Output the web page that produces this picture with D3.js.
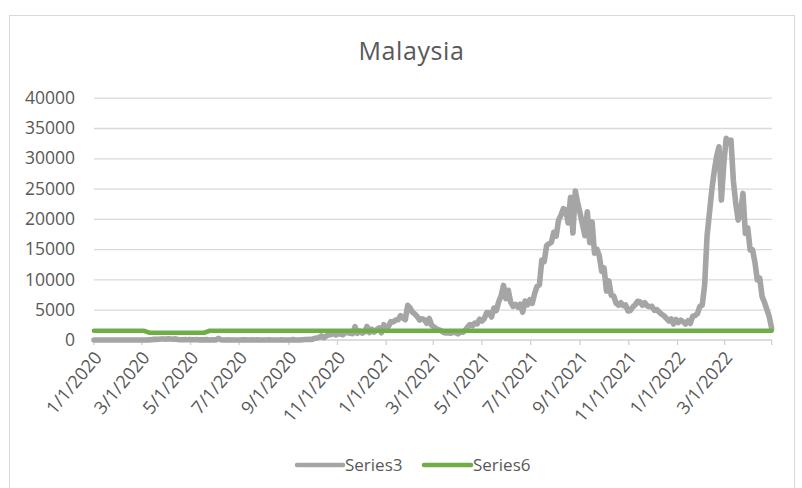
<!DOCTYPE html>
<html><head><meta charset="utf-8">
<script src="https://cdn.jsdelivr.net/npm/d3@7"></script>
<style>
html,body{margin:0;padding:0;background:#fff;}
svg{display:block;font-family:"Open Sans",sans-serif;}
</style></head>
<body>
<svg id="chart" width="802" height="488"></svg>
<script>
// ---- Data ----
const chartTitle = "Malaysia";
const seriesNames = ["Series3", "Series6"];
const series3Start = "2020-01-01";
const series3StepDays = 3;
const series3 = [
  0,0,0,0,0,0,0,0,0,1,
  0,1,2,0,1,0,0,0,0,1,
  0,7,5,24,41,125,110,123,172,159,
  140,217,179,118,184,85,54,36,71,40,
  57,39,30,67,16,40,22,60,10,15,
  38,20,277,31,8,7,15,4,10,6,
  2,6,14,13,7,5,23,5,15,8,
  6,12,5,25,10,4,9,8,18,10,
  5,10,8,62,26,12,21,52,71,82,
  115,89,260,317,432,691,374,660,869,862,
  1240,835,1032,1009,869,1304,1210,1109,1041,2188,
  1109,1472,1141,1312,2234,1229,1772,1295,1684,1999,
  1196,2525,1870,2295,3027,2985,3309,3337,4029,3631,
  3346,5725,5298,4571,4284,3847,3288,3499,3318,2764,
  3545,2437,2154,1828,1680,1529,1245,1156,1208,1116,
  1275,1228,1009,1349,1291,1585,2148,2551,2340,2776,
  2668,3418,3126,3551,4519,4498,3807,5271,4855,6320,
  7289,9020,6824,8209,6241,5566,5868,5419,5911,4611,
  6437,5803,6658,6045,7654,8868,9105,13215,12933,15573,
  15902,16117,17786,17150,19819,20596,21668,21468,19309,23564,
  17672,24599,22597,20897,19057,17228,21176,16073,19495,14345,
  14990,13899,11332,11889,8075,9751,7373,7276,6078,5745,
  6145,5666,5783,4782,4879,5446,5809,6380,6323,5738,
  6144,5648,5487,5551,4896,5020,4626,4262,4004,3590,
  3140,3490,2644,3386,2882,3270,3010,2642,3165,2735,
  3885,4046,4353,5566,5736,9117,17134,20939,24810,27831,
  30300,31900,23100,29100,33300,32450,33000,26250,22500,19800,
  21000,24200,17600,18500,14850,14900,12800,9900,10200,7150,
  6200,5000,3800,1900
];
const series6Dates = ["2020-01-01","2020-03-04","2020-03-10","2020-05-18","2020-05-25","2022-04-29"];
const series6 = [1520,1520,1200,1200,1520,1520];
const yTicks = [0,5000,10000,15000,20000,25000,30000,35000,40000];
const xTickStart = "2020-01-01";
const xTickEnd = "2022-03-01";
const xDomainEnd = "2022-04-29";

// ---- Layout ----
const svg = d3.select("#chart");
const parse = d3.timeParse("%Y-%m-%d");
const plotL = 94, plotR = 771.7, plotT = 97.7, plotB = 340;
const colors = {s3:"#A5A5A5", s6:"#70AD47", grid:"#D9D9D9", text:"#595959"};

const start = parse(series3Start);
const data3 = series3.map((v,i)=>({d:d3.timeDay.offset(start, i*series3StepDays), v}));
const data6 = series6.map((v,i)=>({d:parse(series6Dates[i]), v}));

const x = d3.scaleTime().domain([start, parse(xDomainEnd)]).range([plotL, plotR]);
const y = d3.scaleLinear().domain([0, 40000]).range([plotB, plotT]);

// chart border
svg.append("rect").attr("x",9.5).attr("y",15.5).attr("width",785).attr("height",490)
  .attr("fill","#fff").attr("stroke","#D9D9D9").attr("stroke-width",1);

// title
svg.append("text").attr("x",411.5).attr("y",60).attr("text-anchor","middle")
  .style("font-size","25px").attr("letter-spacing",0.6).attr("fill",colors.text).text(chartTitle);

// gridlines + y labels
const yAxis = d3.axisLeft(y).tickValues(yTicks).tickSize(-(plotR-plotL)).tickFormat(d3.format("d")).tickPadding(19);
const gy = svg.append("g").attr("transform",`translate(${plotL},0)`).call(yAxis);
gy.attr("font-size",null).attr("font-family",null);
gy.select(".domain").remove();
gy.selectAll(".tick line").attr("stroke",colors.grid).attr("stroke-width",1.3)
  .attr("stroke-opacity", d=> d===0 ? 0 : 1);
gy.selectAll(".tick text").style("font-size","17.5px").attr("fill",colors.text)
  .style("font-family","'Open Sans', sans-serif");

// x axis
const xTickVals = d3.timeMonth.every(2).range(parse(xTickStart), d3.timeDay.offset(parse(xTickEnd),1));
const fmt = d3.timeFormat("%-m/%-d/%Y");
const gx = svg.append("g").attr("transform",`translate(0,${plotB})`);
gx.append("line").attr("x1",plotL).attr("x2",plotR).attr("stroke","#D0D0D0").attr("stroke-width",1.3);
const allTicks = xTickVals.concat([parse(xDomainEnd)]);
gx.selectAll("line.tk").data(allTicks).enter().append("line").attr("class","tk")
  .attr("x1",d=>x(d)).attr("x2",d=>x(d)).attr("y1",0).attr("y2",5)
  .attr("stroke","#D0D0D0").attr("stroke-width",1.3);
gx.selectAll("text").data(xTickVals).enter().append("text")
  .attr("transform",d=>`translate(${x(d)+4},${14}) rotate(-50)`)
  .attr("text-anchor","end").attr("dy","0.35em")
  .style("font-size","18px").attr("fill",colors.text).text(d=>fmt(d));

// lines
const line = d3.line().x(d=>x(d.d)).y(d=>y(d.v));
svg.append("path").datum(data3).attr("d",line).attr("fill","none")
  .attr("stroke",colors.s3).attr("stroke-width",5.6).attr("stroke-linejoin","round").attr("stroke-linecap","round");
svg.append("path").datum(data6).attr("d",line).attr("fill","none")
  .attr("stroke",colors.s6).attr("stroke-width",4.6).attr("stroke-linejoin","round").attr("stroke-linecap","round");

// legend
const legend = [
  {name:seriesNames[0], color:colors.s3, x1:297, x2:343, tx:345},
  {name:seriesNames[1], color:colors.s6, x1:424, x2:471, tx:473}
];
const lg = svg.append("g");
legend.forEach(l=>{
  lg.append("line").attr("x1",l.x1).attr("x2",l.x2).attr("y1",465).attr("y2",465)
    .attr("stroke",l.color).attr("stroke-width",4.5).attr("stroke-linecap","round");
  lg.append("text").attr("x",l.tx).attr("y",471).style("font-size","17px").attr("fill",colors.text).text(l.name);
});
</script>
</body></html>
